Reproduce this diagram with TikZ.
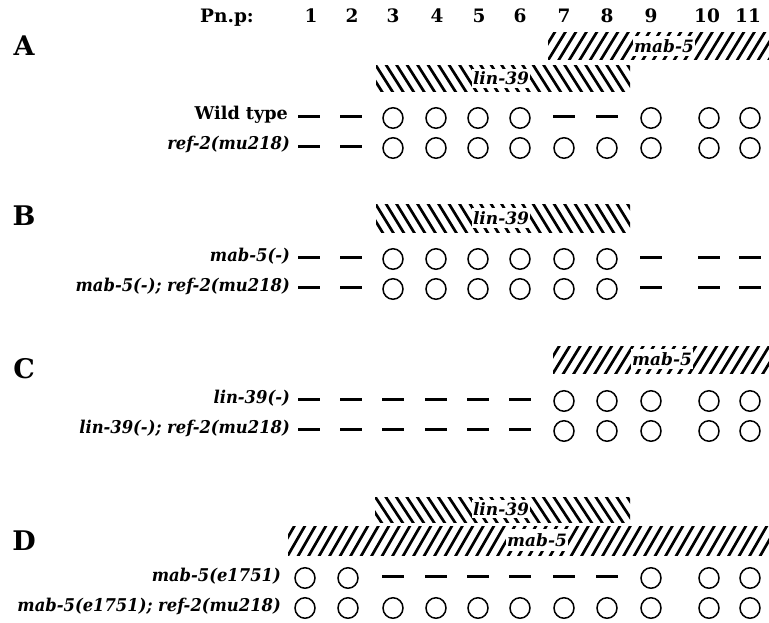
\documentclass[tikz,border=0pt]{standalone}
\usepackage{fontspec}
\setmainfont{DejaVu Serif}
\usetikzlibrary{shapes.geometric}
\newcommand\itlab[1]{\scalebox{0.93}[1]{\itshape #1}}
\tikzset{
  hdtext/.style={inner sep=0pt, anchor=base},
  panel/.style={inner sep=0pt, font=\fontsize{27}{30}\selectfont\bfseries},
  rowlabel/.style={inner sep=0pt, anchor=base east, font=\fontsize{17.6}{20}\selectfont\bfseries},
  ringcell/.style={draw, ellipse, line width=1.5pt, minimum width=20pt, minimum height=20.5pt, inner sep=0pt},
  dashcell/.style={fill=black, rectangle, minimum width=22pt, minimum height=2.8pt, inner sep=0pt, yshift=1.5pt},
  hatchline/.style={line width=2.7pt},
  barlabel/.style={fill=white, inner xsep=1.5pt, inner ysep=0pt, font=\fontsize{17}{20}\selectfont\bfseries\itshape},
}
\newcommand\cellrow[3]{%
  \foreach \t [count=\i] in {#3} {%
    \pgfmathsetmacro\xx{{309,351,393,436,478,520,564,607,651,709,750}[\i-1]}%
    \node[\t] (#1c\i) at (\xx,#2) {};
  }%
}
\newcommand\cellrowD[3]{%
  \foreach \t [count=\i] in {#3} {%
    \pgfmathsetmacro\xx{{305,348,393,436,478,520,564,607,651,709,750}[\i-1]}%
    \node[\t] (#1c\i) at (\xx,#2) {};
  }%
}
% #1 name, #2 x1, #3 y1(top), #4 x2, #5 y2(bottom), #6 dir (1 = /, -1 = \), #7 label, #8 label x
\newcommand\mybar[8]{%
  \begin{scope}
    \clip (#2,#3) rectangle (#4,#5);
    \foreach \k in {0,...,52} {%
      \pgfmathsetmacro\xa{#2-22+10.5*\k}%
      \ifnum#6=1
        \draw[hatchline] (\xa,#5+2) -- ++(19,-#5+#3-4);
      \else
        \draw[hatchline] (\xa,#3-2) -- ++(19,#5-#3+4);
      \fi
    }
  \end{scope}
  \pgfmathsetmacro\ym{(#3+#5)/2-0.5}%
  \pgfmathsetmacro\hh{#5-#3-7}%
  \node[barlabel, minimum height=\hh pt] (#1) at (#8,\ym) {#7};
}
\begin{document}
\begin{tikzpicture}[x=1pt,y=-1pt]
\useasboundingbox (0,0) rectangle (769,623);
% header
\begin{scope}[font=\fontsize{18.5}{22}\selectfont\bfseries]
\node[hdtext] (pnp) at (227,23) {Pn.p:};
\foreach \x [count=\i] in {311,352,393,437,479,520,564,607,651,707,748} {
  \node[hdtext] (h\i) at (\x,23) {\i};
}
\end{scope}
% panel letters
\node[panel] (pA) at (24,46) {A};
\node[panel] (pB) at (24,216) {B};
\node[panel] (pC) at (24,369) {C};
\node[panel] (pD) at (24,541) {D};
% bars
\mybar{mabA}{548}{33}{769}{60}{1}{mab-5}{664}
\mybar{linA}{376}{66}{630}{92}{-1}{lin-39}{501}
\mybar{linB}{376}{205}{630}{232}{-1}{lin-39}{501}
\mybar{mabC}{553}{346}{769}{373}{1}{mab-5}{662}
\mybar{linD}{375}{497}{630}{522}{-1}{lin-39}{501}
\mybar{mabD}{288}{526}{769}{555}{1}{mab-5}{537}
% row labels
\node[rowlabel] (lA1) at (288,120) {Wild type};
\node[rowlabel] (lA2) at (290,150) {\itlab{ref-2(mu218)}};
\node[rowlabel] (lB1) at (290,261) {\itlab{mab-5(-)}};
\node[rowlabel] (lB2) at (290,291) {\itlab{mab-5(-); ref-2(mu218)}};
\node[rowlabel] (lC1) at (290,403) {\itlab{lin-39(-)}};
\node[rowlabel] (lC2) at (290,433) {\itlab{lin-39(-); ref-2(mu218)}};
\node[rowlabel] (lD1) at (281,581) {\itlab{mab-5(e1751)}};
\node[rowlabel] (lD2) at (281,611) {\itlab{mab-5(e1751); ref-2(mu218)}};
% cells
\cellrow{A1}{118}{dashcell,dashcell,ringcell,ringcell,ringcell,ringcell,dashcell,dashcell,ringcell,ringcell,ringcell}
\cellrow{A2}{148}{dashcell,dashcell,ringcell,ringcell,ringcell,ringcell,ringcell,ringcell,ringcell,ringcell,ringcell}
\cellrow{B1}{259}{dashcell,dashcell,ringcell,ringcell,ringcell,ringcell,ringcell,ringcell,dashcell,dashcell,dashcell}
\cellrow{B2}{289}{dashcell,dashcell,ringcell,ringcell,ringcell,ringcell,ringcell,ringcell,dashcell,dashcell,dashcell}
\cellrow{C1}{401}{dashcell,dashcell,dashcell,dashcell,dashcell,dashcell,ringcell,ringcell,ringcell,ringcell,ringcell}
\cellrow{C2}{431}{dashcell,dashcell,dashcell,dashcell,dashcell,dashcell,ringcell,ringcell,ringcell,ringcell,ringcell}
\cellrowD{D1}{578}{ringcell,ringcell,dashcell,dashcell,dashcell,dashcell,dashcell,dashcell,ringcell,ringcell,ringcell}
\cellrowD{D2}{608}{ringcell,ringcell,ringcell,ringcell,ringcell,ringcell,ringcell,ringcell,ringcell,ringcell,ringcell}
\end{tikzpicture}
\end{document}
